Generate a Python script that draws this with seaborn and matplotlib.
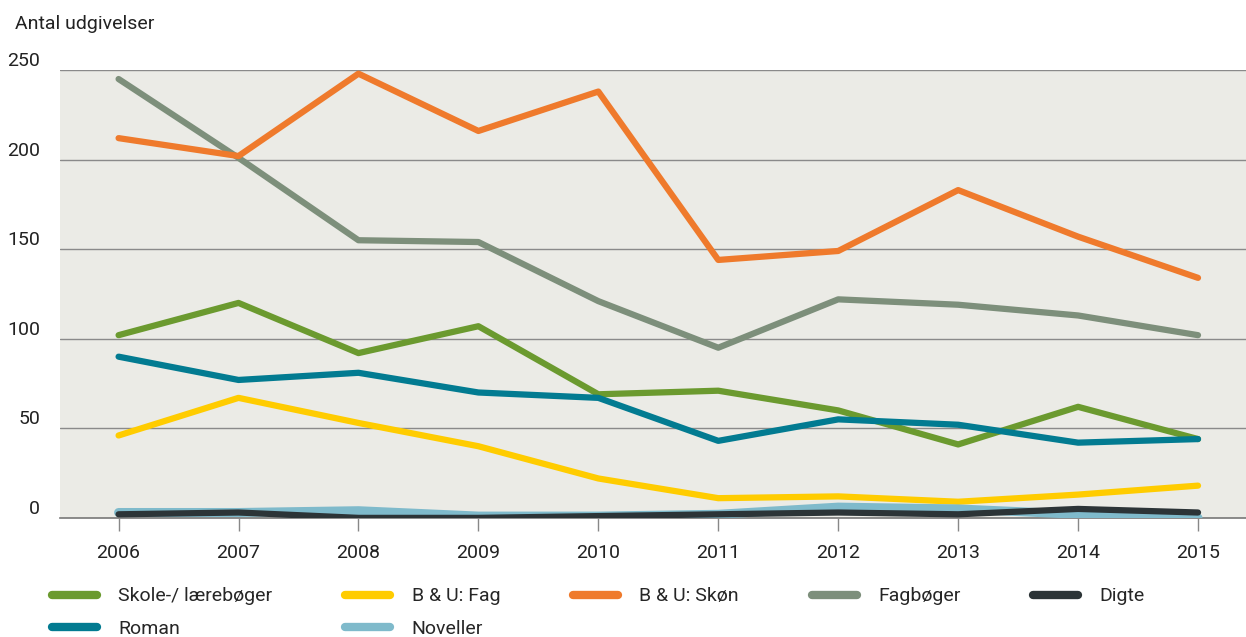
import pandas as pd
import seaborn as sns
import matplotlib.pyplot as plt
from matplotlib.lines import Line2D

years = list(range(2006, 2016))

skole = [102, 120, 92, 107, 69, 71, 60, 41, 62, 44]
bu_fag = [46, 67, 53, 40, 22, 11, 12, 9, 13, 18]
bu_skon = [212, 202, 248, 216, 238, 144, 149, 183, 157, 134]
fagboger = [245, 201, 155, 154, 121, 95, 122, 119, 113, 102]
digte = [2, 3, 0, 0, 1, 2, 3, 2, 5, 3]
roman = [90, 77, 81, 70, 67, 43, 55, 52, 42, 44]
noveller = [3, 3, 4, 1, 1, 2, 6, 5, 2, 0]

series = {
    "Fagbøger": fagboger,
    "B & U: Skøn": bu_skon,
    "B & U: Fag": bu_fag,
    "Skole-/ lærebøger": skole,
    "Roman": roman,
    "Noveller": noveller,
    "Digte": digte,
}
colors = {
    "Skole-/ lærebøger": "#6b9a2f",
    "B & U: Fag": "#ffcc00",
    "B & U: Skøn": "#ef7a2c",
    "Fagbøger": "#7d8f7b",
    "Digte": "#2c3437",
    "Roman": "#027b91",
    "Noveller": "#7fbacb",
}

rows = []
for name, vals in series.items():
    for y, v in zip(years, vals):
        rows.append({"year": y, "value": v, "series": name})
df = pd.DataFrame(rows)

sns.set_theme(style="white")
plt.rcParams["font.family"] = ["Roboto", "DejaVu Sans"]

fig = plt.figure(figsize=(12.46, 6.37), dpi=100)
ax = fig.add_axes([0.048, 0.187, 0.952, 0.703])
ax.set_facecolor("#ebebe6")

sns.lineplot(data=df, x="year", y="value", hue="series", hue_order=list(series.keys()),
             palette=colors, linewidth=4.5, legend=False, ax=ax,
             solid_capstyle="round", solid_joinstyle="round")
# Noveller is drawn a little heavier in the original
ax.lines[5].set_linewidth(6.5)

ax.set_xlim(2005.51, 2015.4)
ax.set_ylim(0, 250)
ax.set_yticks([0, 50, 100, 150, 200, 250])
ax.set_xticks(years)
ax.set_xlabel("")
ax.set_ylabel("")
ax.yaxis.grid(True, color="#8a8a8a", linewidth=1)
ax.set_axisbelow(True)
for s in ["top", "right", "left"]:
    ax.spines[s].set_visible(False)
ax.spines["bottom"].set_color("#777777")
ax.spines["bottom"].set_linewidth(1.2)
ax.spines["bottom"].set_zorder(0.5)
ax.tick_params(axis="x", direction="out", length=9, width=1, color="#888888",
               labelsize=14, pad=10, labelcolor="#222222", bottom=True)
ax.tick_params(axis="y", length=0, labelsize=14, pad=14, labelcolor="#222222")
for lbl in ax.get_yticklabels():
    lbl.set_verticalalignment("bottom")

fig.text(0.012, 0.963, "Antal udgivelser", fontsize=14, color="#222222", va="center")

legend_order = ["Skole-/ lærebøger", "Roman", "B & U: Fag", "Noveller",
                "B & U: Skøn", "Fagbøger", "Digte"]
handles = [Line2D([], [], color=colors[n], linewidth=6, solid_capstyle="round")
           for n in legend_order]
fig.legend(handles, legend_order, loc="upper left", bbox_to_anchor=(0.042, 0.078),
           ncol=5, frameon=False, fontsize=14, handlelength=2.3, handletextpad=1.1,
           columnspacing=3.75, labelspacing=0.75, borderaxespad=0, borderpad=0)

fig.savefig("out.png", dpi=100)
